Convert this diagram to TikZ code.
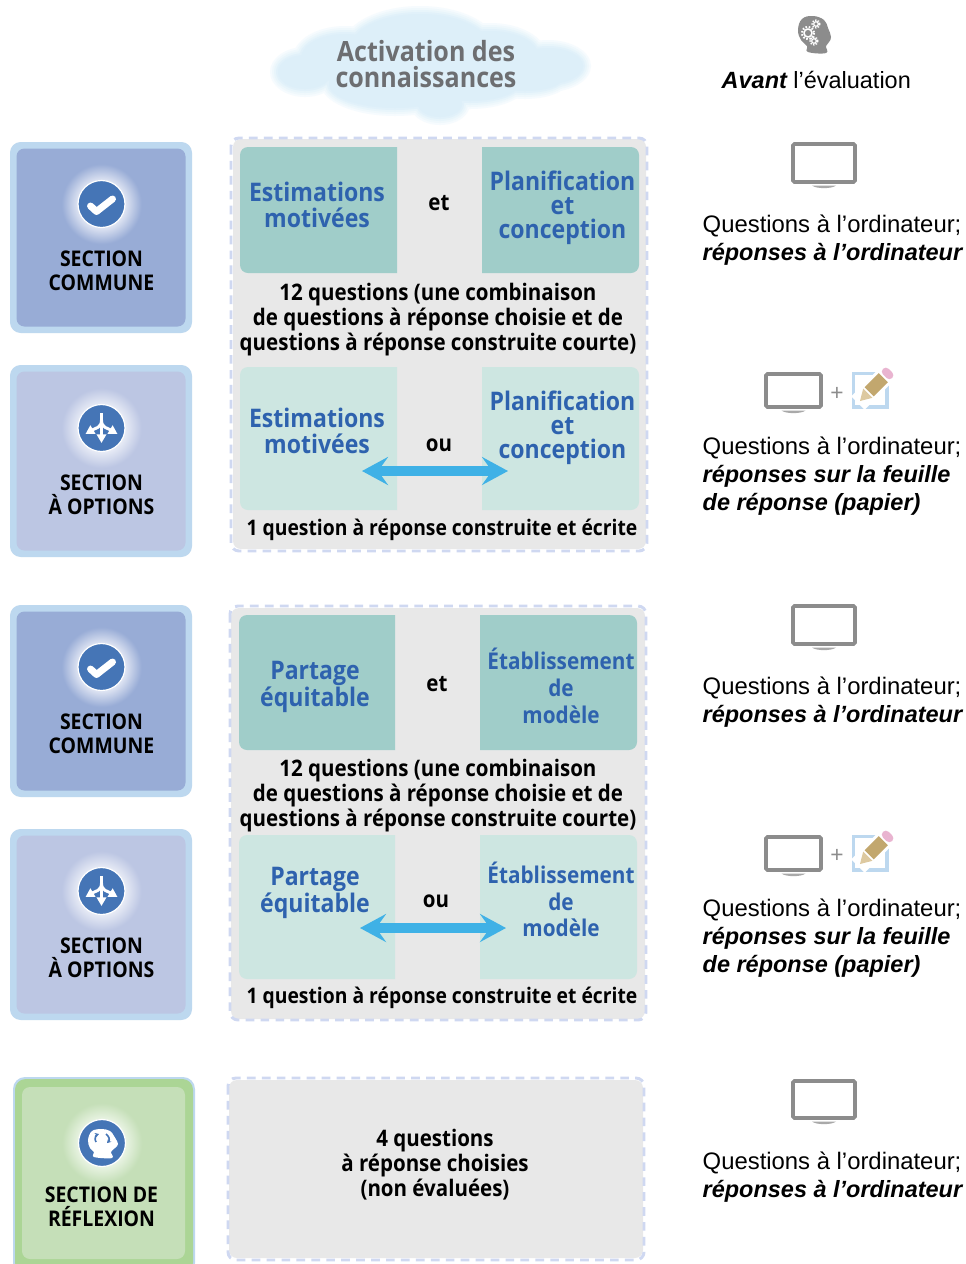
\documentclass[tikz,border=0pt]{standalone}
\usepackage{fontspec}
\usetikzlibrary{arrows.meta}
\newfontfamily\myr{Open Sans}[FakeStretch=0.9]
\newfontfamily\hlv{Liberation Sans}
\definecolor{cRing}{HTML}{BDD8EF}
\definecolor{cCommon}{HTML}{98ACD6}
\definecolor{cOption}{HTML}{BCC6E3}
\definecolor{cGreen}{HTML}{ABD595}
\definecolor{cRefl}{HTML}{C5DFB8}
\definecolor{cIcon}{HTML}{4575B6}
\definecolor{cPanel}{HTML}{E8E8E8}
\definecolor{cDash}{HTML}{CFD8F1}
\definecolor{cTeal}{HTML}{A0CDC9}
\definecolor{cTealL}{HTML}{CDE6E1}
\definecolor{cBlue}{HTML}{2E62AE}
\definecolor{cArrow}{HTML}{3FB1E6}
\definecolor{cMon}{HTML}{8C8C8C}
\definecolor{cCloudT}{HTML}{6D6E71}
\definecolor{cTan}{HTML}{C2A76E}
\definecolor{cTanL}{HTML}{DDC9A0}
\definecolor{cPink}{HTML}{E9B4D0}
\definecolor{gA}{HTML}{DDE3F2}
\definecolor{gB}{HTML}{E6EAF5}
\definecolor{gC}{HTML}{E8F3E2}
\pgfdeclareradialshading{glowA}{\pgfpoint{0bp}{0bp}}{color(0bp)=(gA);color(12bp)=(gA);color(20bp)=(cCommon);color(50bp)=(cCommon)}
\pgfdeclareradialshading{glowB}{\pgfpoint{0bp}{0bp}}{color(0bp)=(gB);color(12bp)=(gB);color(20bp)=(cOption);color(50bp)=(cOption)}
\pgfdeclareradialshading{glowC}{\pgfpoint{0bp}{0bp}}{color(0bp)=(gC);color(12bp)=(gC);color(20bp)=(cRefl);color(50bp)=(cRefl)}
\newcommand{\bitxt}{\fontsize{17.6}{21}\selectfont\bfseries\itshape}
\tikzset{
  x=0.75pt,y=-0.75pt,
  sectext/.style={font=\myr\bfseries\fontsize{16.2}{18}\selectfont,align=center,text=black},
  subject/.style={font=\myr\bfseries\fontsize{19.2}{19.8}\selectfont,align=center,text=cBlue},
  subjectP/.style={font=\myr\bfseries\fontsize{19.2}{18}\selectfont,align=center,text=cBlue},
  subjectB/.style={font=\myr\bfseries\fontsize{17.3}{20}\selectfont,align=center,text=cBlue},
  blacktext/.style={font=\myr\bfseries\fontsize{17.1}{18.75}\selectfont,align=center,text=black},
  oneline/.style={font=\myr\bfseries\fontsize{16.1}{18.75}\selectfont,align=center,text=black},
  hlvtext/.style={font=\hlv\fontsize{17.9}{21}\selectfont,align=left,anchor=west,text=black},
  dashframe/.style={draw=cDash,line width=2.2pt,dash pattern=on 6.5pt off 4.7pt,rounded corners=6pt},
  bigarrow/.style={draw=cArrow,line width=8.2pt,{Stealth[length=19.5pt,width=21pt,inset=7.5pt]}-{Stealth[length=19.5pt,width=21pt,inset=7.5pt]}},
}
\newcommand{\secbox}[6]{%
  \fill[rounded corners=8pt,#5] (#1,#2) rectangle (#3,#4);
  \fill[rounded corners=6pt,#6] (#1+6.5,#2+6.5) rectangle (#3-6.5,#4-6.5);
}
\newcommand{\iconbase}[3]{%
  \shade[shading=#3] (#1,#2) circle [radius=50];
  \fill[cIcon,draw=white,line width=0.9pt] (#1,#2) circle [radius=23.5];
}
\newcommand{\checkicon}[2]{\draw[white,line width=5.2pt,line cap=round,line join=round] (#1-11,#2+2)--(#1-5,#2+7.5)--(#1+11,#2-5);}
\newcommand{\forkicon}[2]{%
  \begin{scope}[shift={(#1,#2)}]
    \draw[white,line width=2.2pt,-{Triangle[length=6.5pt,width=7pt]}] (0,-15) -- (0,15);
    \draw[white,line width=2.2pt,-{Triangle[length=6.5pt,width=7pt]}] (0,-8) .. controls (0,0) and (-6,0) .. (-16,6);
    \draw[white,line width=2.2pt,-{Triangle[length=6.5pt,width=7pt]}] (0,-8) .. controls (0,0) and (6,0) .. (16,6);
  \end{scope}}
\newcommand{\monitorfig}[4]{%
  \draw[cMon,line width=2.7pt,rounded corners=1pt,fill=white] (#1+2,#2+2) rectangle (#3-2,#4-2);
  \fill[cMon!75] ({(#1+#3)/2-12},#4+1.5) -- ({(#1+#3)/2+12},#4+1.5) .. controls ({(#1+#3)/2+8},#4+5) and ({(#1+#3)/2-8},#4+5) .. ({(#1+#3)/2-12},#4+1.5);
}
\newcommand{\pencilfig}[2]{%
  \begin{scope}[shift={(#1,#2)}]
    \draw[cRing,line width=2.4pt] (1.5,1.5) rectangle (35,35);
    \begin{scope}[shift={(8,29)},rotate=45]
      \fill[white] (-3,-9.5) rectangle (46,9.5);
      \fill[cTanL] (0,0) -- (11,-6.5) -- (11,6.5) -- cycle;
      \fill[cTan] (13,-6.5) rectangle (33,6.5);
      \fill[cPink,rounded corners=3pt] (35,-6.5) rectangle (43,6.5);
    \end{scope}
  \end{scope}}
\newcommand{\cloudlayer}[2]{%
  \fill[#2] (305,72) ellipse [x radius=29+#1,y radius=19+#1];
  \fill[#2] (345,58) ellipse [x radius=46+#1,y radius=26+#1];
  \fill[#2] (420,48) ellipse [x radius=72+#1,y radius=36+#1];
  \fill[#2] (490,55) ellipse [x radius=50+#1,y radius=26+#1];
  \fill[#2] (548,66) ellipse [x radius=37+#1,y radius=20+#1];
  \fill[#2] (395,84) ellipse [x radius=68+#1,y radius=26+#1];
  \fill[#2] (470,85) ellipse [x radius=50+#1,y radius=18+#1];
  \fill[#2] (440,104) ellipse [x radius=24+#1,y radius=15+#1];
  \fill[#2] (525,80) ellipse [x radius=38+#1,y radius=13+#1];
}
\newcommand{\leftround}[5]{\fill[#5,rounded corners=6pt] (#3,#2) [sharp corners] -- (#3,#2) [rounded corners=6pt] -- (#1,#2) -- (#1,#4) [sharp corners] -- (#3,#4) -- cycle;}
\newcommand{\rightround}[5]{\fill[#5] (#1,#2) [rounded corners=6pt] -- (#3,#2) -- (#3,#4) [sharp corners] -- (#1,#4) -- cycle;}
\definecolor{cl1}{HTML}{F6FBFE}
\definecolor{cl2}{HTML}{EFF8FC}
\definecolor{cl3}{HTML}{E8F5FB}
\definecolor{cl4}{HTML}{E1F1FA}
\definecolor{cl5}{HTML}{DDEFF9}
\begin{document}
\begin{tikzpicture}
\useasboundingbox (0,0) rectangle (966,1264);
\fill[white] (0,0) rectangle (966,1264);
\begin{scope}
\clip (0,0) rectangle (966,1264);
\cloudlayer{6}{cl1}
\cloudlayer{4}{cl2}
\cloudlayer{2}{cl3}
\cloudlayer{0}{cl4}
\cloudlayer{-2}{cl5}
\node[font=\myr\bfseries\fontsize{20.9}{19.5}\selectfont,align=center,text=cCloudT] (cloud) at (426,64) {Activation des\\connaissances};
\fill[cMon] plot[smooth cycle,tension=.7] coordinates {(813,16) (802,19) (798,30) (801,40) (807,46) (808,52) (826,53) (826,46) (829,42) (831,37) (828,28) (824,20)};
\draw[white,line width=1.1pt] (808,33) circle [radius=4];
\draw[white,line width=1.6pt,dash pattern=on 1.2pt off 1.2pt] (808,33) circle [radius=6];
\draw[white,line width=.9pt] (816,24) circle [radius=2.3];
\draw[white,line width=1.3pt,dash pattern=on 1pt off 1pt] (816,24) circle [radius=3.7];
\draw[white,line width=.9pt] (814,41) circle [radius=2.3];
\draw[white,line width=1.3pt,dash pattern=on 1pt off 1pt] (814,41) circle [radius=3.7];
\node[hlvtext,font=\hlv\fontsize{17.6}{21}\selectfont] (avant) at (717,80) {\bfseries\itshape Avant \mdseries\upshape l’évaluation};
\secbox{10}{142}{192}{333}{cRing}{cCommon}
\iconbase{101.5}{204}{glowA}\checkicon{101.5}{204}
\node[sectext] (s1) at (101.5,271) {SECTION\\COMMUNE};
\secbox{10}{365}{192}{557}{cRing}{cOption}
\iconbase{101.5}{428}{glowB}\forkicon{101.5}{428}
\node[sectext] (s2) at (101.5,495) {SECTION\\À OPTIONS};
\secbox{10}{605}{192}{797}{cRing}{cCommon}
\iconbase{101.5}{667}{glowA}\checkicon{101.5}{667}
\node[sectext] (s3) at (101.5,734) {SECTION\\COMMUNE};
\secbox{10}{829}{192}{1020}{cRing}{cOption}
\iconbase{101.5}{891}{glowB}\forkicon{101.5}{891}
\node[sectext] (s4) at (101.5,958) {SECTION\\À OPTIONS};
\fill[rounded corners=9pt,cRing] (13,1077) rectangle (195,1275);
\fill[rounded corners=8pt,cGreen] (15,1079) rectangle (193,1273);
\fill[rounded corners=6pt,cRefl] (22,1087) rectangle (185,1259);
\iconbase{102}{1143}{glowC}
\fill[white] plot[smooth cycle,tension=.6] coordinates {(102,1129) (92,1131) (88,1140) (90,1148) (94,1152) (94,1157) (112,1158) (111,1152) (115,1148) (118,1144) (114,1136) (110,1131)};
\draw[cIcon,line width=1.2pt,-{Stealth[length=3pt,width=3.5pt]}] (96,1142) .. controls (94,1139) and (96,1135) .. (99,1134);
\draw[cIcon,line width=1.2pt,-{Stealth[length=3pt,width=3.5pt]}] (106,1134) .. controls (109,1136) and (110,1140) .. (107,1143);
\node[sectext] (s5) at (101.5,1207) {SECTION DE\\RÉFLEXION};
\fill[cPanel,rounded corners=6pt] (233,139) rectangle (646,549);
\draw[dashframe] (231,138) rectangle (647,551);
\fill[cPanel,rounded corners=6pt] (231,608) rectangle (645,1019);
\draw[dashframe] (230,606) rectangle (646,1020);
\fill[cPanel,rounded corners=6pt] (229,1080) rectangle (643,1258);
\draw[dashframe] (228,1078) rectangle (644,1260);
\leftround{240}{147}{397}{273}{cTeal}
\rightround{482}{147}{639}{273}{cTeal}
\leftround{240}{367}{397}{510}{cTealL}
\rightround{482}{367}{639}{510}{cTealL}
\node[subject] (a1) at (317,205) {Estimations\\motivées};
\node[subjectP] (a2) at (562.5,207.5) {Planification\\et\\conception};
\node[blacktext] (a3) at (439,203) {et};
\node[blacktext] (a4) at (438,320) {12 questions (une combinaison\\de questions à réponse choisie et de\\questions à réponse construite courte)};
\node[subject] (a5) at (317,431) {Estimations\\motivées};
\node[subjectP] (a6) at (562.5,427.5) {Planification\\et\\conception};
\node[blacktext] (a7) at (439,445) {ou};
\coordinate (a8l) at (362,471); \coordinate (a8r) at (508,471);
\draw[bigarrow] (a8l) -- (a8r);
\node[oneline] (a9) at (442,530) {1 question à réponse construite et écrite};
\leftround{239}{615}{395}{750}{cTeal}
\rightround{480}{615}{637}{750}{cTeal}
\leftround{239}{835}{395}{979}{cTealL}
\rightround{480}{835}{637}{979}{cTealL}
\node[subject] (b1) at (315,687) {Partage\\équitable};
\node[subjectB] (b2) at (561,686) {Établissement\\de\\modèle};
\node[blacktext] (b3) at (437,684) {et};
\node[blacktext] (b4) at (438,796) {12 questions (une combinaison\\de questions à réponse choisie et de\\questions à réponse construite courte)};
\node[subject] (b5) at (315,893) {Partage\\équitable};
\node[subjectB] (b6) at (561,899.5) {Établissement\\de\\modèle};
\node[blacktext] (b7) at (436,901) {ou};
\coordinate (b8l) at (360,928); \coordinate (b8r) at (506,928);
\draw[bigarrow] (b8l) -- (b8r);
\node[oneline] (b9) at (442,998) {1 question à réponse construite et écrite};
\node[blacktext] (c1) at (435,1165) {4 questions\\à réponse choisies\\(non évaluées)};
\monitorfig{791}{142}{857}{184}
\node[hlvtext] (r1) at (698,240.5) {Questions à l’ordinateur;\\\bitxt réponses à l’ordinateur};
\monitorfig{764}{372}{823}{409}
\node[font=\hlv\fontsize{17}{17}\selectfont,text=cMon] (p1) at (837,394) {+};
\pencilfig{852}{372}
\node[hlvtext] (r2) at (698,476) {Questions à l’ordinateur;\\\bitxt réponses sur la feuille\\\bitxt de réponse (papier)};
\monitorfig{791}{604}{857}{646}
\node[hlvtext] (r3) at (698,702.5) {Questions à l’ordinateur;\\\bitxt réponses à l’ordinateur};
\monitorfig{764}{835}{823}{872}
\node[font=\hlv\fontsize{17}{17}\selectfont,text=cMon] (p2) at (837,856) {+};
\pencilfig{852}{835}
\node[hlvtext] (r4) at (698,938) {Questions à l’ordinateur;\\\bitxt réponses sur la feuille\\\bitxt de réponse (papier)};
\monitorfig{791}{1079}{857}{1120}
\node[hlvtext] (r5) at (698,1177.5) {Questions à l’ordinateur;\\\bitxt réponses à l’ordinateur};
\end{scope}
\end{tikzpicture}
\end{document}
